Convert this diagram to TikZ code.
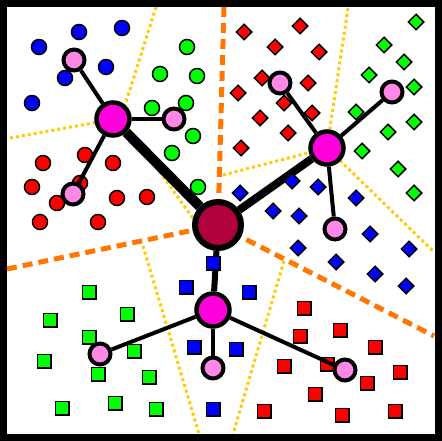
\documentclass[tikz,border=0pt]{standalone}
\usetikzlibrary{shapes.geometric}

\definecolor{rootred}{RGB}{176,0,62}
\definecolor{hubmag}{RGB}{255,0,221}
\definecolor{leafpink}{RGB}{255,136,230}
\definecolor{ptgreen}{RGB}{0,255,0}
\definecolor{ptred}{RGB}{255,0,0}
\definecolor{ptblue}{RGB}{0,0,255}
\definecolor{gold}{RGB}{255,204,0}
\definecolor{cutorange}{RGB}{255,119,0}

\pgfdeclarelayer{bg}
\pgfdeclarelayer{thick}
\pgfdeclarelayer{thin}
\pgfdeclarelayer{top}
\pgfsetlayers{bg,thick,main,thin,top}

\tikzset{
  ptbase/.style={draw=black, line width=1.5pt, inner sep=0pt},
  dot/.style={ptbase, circle, minimum size=15pt},
  sq/.style={ptbase, rectangle, minimum size=13.5pt},
  dia/.style={ptbase, diamond, aspect=1, minimum size=16pt},
  leaf/.style={circle, draw=black, line width=4pt, fill=leafpink, minimum size=21pt, inner sep=0pt},
  hub/.style={circle, draw=black, line width=4.5pt, fill=hubmag, minimum size=33pt, inner sep=0pt},
  root/.style={circle, draw=black, line width=6pt, fill=rootred, minimum size=46pt, inner sep=0pt},
  border/.style={gold, line width=3pt, dash pattern=on 3pt off 3pt},
  cut/.style={cutorange, line width=5pt, dash pattern=on 10pt off 6pt},
}

\begin{document}
\begin{tikzpicture}[x=1pt, y=-1pt]
\useasboundingbox (0,0) rectangle (442,441);

% tree nodes
\begin{pgfonlayer}{top}
\node[root] (r) at (218,225) {};
\node[hub] (ha) at (113,119) {};
\node[hub] (hb) at (327,148) {};
\node[hub] (hd) at (213,310) {};
\foreach \x/\y [count=\i] in {74/60, 174/119, 73/194} {
 \node[leaf] (la\i) at (\x,\y) {};
}
\foreach \x/\y [count=\i] in {280/83, 392/92, 335/229} {
 \node[leaf] (lb\i) at (\x,\y) {};
}
\foreach \x/\y [count=\i] in {100/354, 213/368, 345/370} {
 \node[leaf] (ld\i) at (\x,\y) {};
}
\end{pgfonlayer}

% cell borders
\coordinate (pa) at (121,118);
\begin{pgfonlayer}{bg}
\fill[white] (0,0) rectangle (442,441);
\draw[border] (156,7) -- (pa);
\draw[border] (10,138) -- (pa);
\draw[border] (pa) -- (200,228);
\draw[border] (348,8) -- (hb.center);
\draw[border] (223,175) -- (hb.center);
\draw[border] (hb.center) -- (434,252);
\draw[border] (143,246) -- (199,434);
\draw[border] (284,261) -- (233,434);
\draw[cut] (224,7) -- (r.center);
\draw[cut] (7,269) -- (r.center);
\draw[cut] (r.center) -- (434,336);
\end{pgfonlayer}

% edges
\begin{pgfonlayer}{thick}
\draw[line width=10pt] (r) -- (ha);
\draw[line width=8pt] (r) -- (hb);
\draw[line width=6pt] (r) -- (hd);
\end{pgfonlayer}
\begin{pgfonlayer}{thin}
\foreach \i in {1,2,3} {
 \draw[line width=4pt] (ha) -- (la\i);
 \draw[line width=4pt] (hb) -- (lb\i);
 \draw[line width=4pt] (hd) -- (ld\i);
}
\end{pgfonlayer}

% circles
\foreach \x/\y [count=\i] in {39/47, 79/32, 122/28, 106/67, 65/78, 32/103} {
 \node[dot, fill=ptblue] (cb\i) at (\x,\y) {};
}
\foreach \x/\y [count=\i] in {187/47, 160/74, 197/76, 152/108, 186/103, 193/136, 172/153, 198/187} {
 \node[dot, fill=ptgreen] (cg\i) at (\x,\y) {};
}
\foreach \x/\y [count=\i] in {43/163, 85/155, 113/163, 32/187, 80/183, 57/203, 117/198, 147/197, 40/222, 98/222} {
 \node[dot, fill=ptred] (cr\i) at (\x,\y) {};
}

% diamonds
\foreach \x/\y [count=\i] in {244/32, 300/26, 275/47, 319/52, 262/78, 308/83, 238/93, 284/103, 312/113, 260/118, 288/133, 241/148} {
 \node[dia, fill=ptred] (dr\i) at (\x,\y) {};
}
\foreach \x/\y [count=\i] in {416/22, 384/45, 404/62, 369/75, 414/87, 356/112, 388/132, 414/122, 362/151, 398/169, 414/193} {
 \node[dia, fill=ptgreen] (dg\i) at (\x,\y) {};
}
\foreach \x/\y [count=\i] in {292/181, 318/187, 240/193, 356/198, 273/211, 299/216, 370/234, 298/248, 336/262, 409/249, 375/274, 406/286} {
 \node[dia, fill=ptblue] (db\i) at (\x,\y) {};
}

% squares
\foreach \x/\y [count=\i] in {213/263, 186/287, 249/292, 194/347, 236/349, 213/409} {
 \node[sq, fill=ptblue] (sb\i) at (\x,\y) {};
}
\foreach \x/\y [count=\i] in {89/292, 50/320, 127/314, 89/337, 44/361, 134/351, 98/374, 149/377, 62/408, 115/403, 156/409} {
 \node[sq, fill=ptgreen] (sg\i) at (\x,\y) {};
}
\foreach \x/\y [count=\i] in {304/308, 300/336, 340/330, 375/347, 284/366, 327/364, 400/372, 367/383, 315/394, 264/411, 342/415, 395/411} {
 \node[sq, fill=ptred] (sr\i) at (\x,\y) {};
}

\begin{pgfonlayer}{top}
\draw[line width=7pt] (3.5,3.5) rectangle (438.5,437.5);
\end{pgfonlayer}
\end{tikzpicture}
\end{document}
